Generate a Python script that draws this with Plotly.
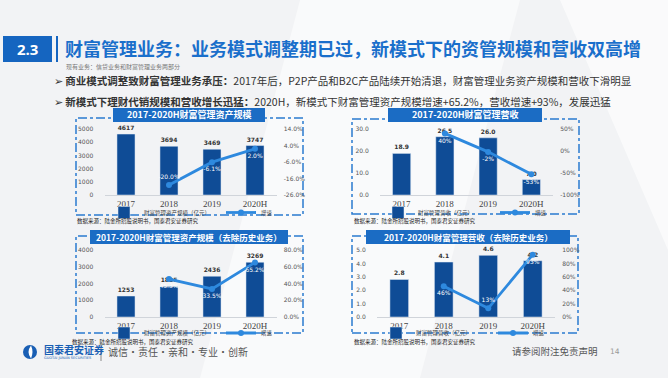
import plotly.graph_objects as go

W, H = 668, 378
def px(x): return x / W
def py(y): return 1 - y / H

# ---------------- data ----------------
categories = ["2017", "2018", "2019", "2020H"]

aum_all = [4617, 3694, 3469, 3747]              # 财富管理资产规模（亿元）
aum_all_growth = [None, -20.0, -6.1, 2.0]       # 增速 %
rev_all = [18.9, 26.5, 26.0, 7.0]               # 财富管理营收（亿元）
rev_all_growth = [None, 40, -2, -53]            # 增速 %
aum_new = [1253, 1825, 2436, 3269]              # 去除历史业务 资产规模
aum_new_growth = [None, 45.3, 33.5, 65.2]
rev_new = [2.8, 4.1, 4.6, 4.2]                  # 去除历史业务 营收
rev_new_growth = [None, 46, 13, 93]

left_ticks_1 = [0, 1000, 2000, 3000, 4000, 5000]
right_ticks_1 = [-26.0, -16.0, -6.0, 4.0, 14.0]
left_ticks_2 = [0.0, 10.0, 20.0, 30.0]
right_ticks_2 = [-100, -50, 0, 50]
left_ticks_3 = [0, 1000, 2000, 3000, 4000]
right_ticks_3 = [0.0, 20.0, 40.0, 60.0, 80.0]
left_ticks_4 = [0.0, 1.0, 2.0, 3.0, 4.0, 5.0]
right_ticks_4 = [0, 20, 40, 60, 80, 100]

BAR = "#0f4c96"
LINE = "#2e89de"
TXT = "#333333"
CJK = "Noto Sans CJK SC"

panels = [
    dict(title="2017-2020H财富管理资产规模", tsize=9, bars=aum_all, growth=aum_all_growth,
         bar_fmt="{:.0f}", g_fmt="{:.1f}%", left=left_ticks_1, right=right_ticks_1,
         lrange=[0, 5000], rrange=[-26, 14], lfmt="{:.0f}", rfmt="{:.1f}%",
         xd=[104.5, 276.5], yd=[129, 195], tbox=[113, 265, 108, 122],
         dbox=[76, 303, 118, 215], src=[75, 221], leg=[104, 212.5],
         tpos=["bottom center", "top center", "bottom center", "bottom center"],
         barname="财富管理资产规模（亿元）"),
    dict(title="2017-2020H财富管理营收", tsize=9, bars=rev_all, growth=rev_all_growth,
         bar_fmt="{:.1f}", g_fmt="{:.0f}%", left=left_ticks_2, right=right_ticks_2,
         lrange=[0, 30], rrange=[-100, 50], lfmt="{:.1f}", rfmt="{:.0f}%",
         xd=[380, 553], yd=[129, 195], tbox=[388, 542, 108, 122],
         dbox=[352, 579, 119, 214], src=[352, 221], leg=[378, 212.5],
         tpos=["bottom center", "bottom center", "bottom center", "bottom center"],
         barname="财富管理营收（亿元）"),
    dict(title="2017-2020H财富管理资产规模（去除历史业务）", tsize=8.5, bars=aum_new, growth=aum_new_growth,
         bar_fmt="{:.0f}", g_fmt="{:.1f}%", left=left_ticks_3, right=right_ticks_3,
         lrange=[0, 4000], rrange=[0, 80], lfmt="{:.0f}", rfmt="{:.1f}%",
         xd=[104.5, 276.5], yd=[250, 317], tbox=[90, 288, 230, 244],
         dbox=[76, 303, 236, 333], src=[70, 341.5], leg=[104, 333],
         tpos=["bottom center", "bottom center", "bottom center", "bottom center"],
         barname="财富管理资产规模（亿元）"),
    dict(title="2017-2020H财富管理营收（去除历史业务）", tsize=8.5, bars=rev_new, growth=rev_new_growth,
         bar_fmt="{:.1f}", g_fmt="{:.0f}%", left=left_ticks_4, right=right_ticks_4,
         lrange=[0, 5], rrange=[0, 100], lfmt="{:.1f}", rfmt="{:.0f}%",
         xd=[377, 555], yd=[250, 317], tbox=[366, 570, 230, 244],
         dbox=[352, 578, 236, 333], src=[352, 341.5], leg=[376, 333],
         tpos=["bottom center", "bottom center", "top center", "bottom center"],
         barname="财富管理营收（亿元）"),
]

fig = go.Figure()
layout = {}
shapes = []
annotations = []

def ann(x, y, text, size, color, family=CJK, xanchor="left"):
    annotations.append(dict(x=px(x), y=py(y), xref="paper", yref="paper", text=text,
                            showarrow=False, xanchor=xanchor, yanchor="middle",
                            font=dict(size=size, color=color, family=family)))

for i, p in enumerate(panels):
    n = i + 1
    xa = "x" if n == 1 else f"x{n}"
    yl_idx = 2 * i + 1
    yr_idx = 2 * i + 2
    yl = "y" if yl_idx == 1 else f"y{yl_idx}"
    yr = f"y{yr_idx}"
    leg = "legend" if n == 1 else f"legend{n}"

    fig.add_trace(go.Bar(
        x=categories, y=p["bars"], xaxis=xa, yaxis=yl, marker_color=BAR,
        width=0.42, name=p["barname"], legend=leg,
        text=[p["bar_fmt"].format(v) for v in p["bars"]], textposition="outside",
        textfont=dict(size=6, color=TXT, family="DejaVu Sans", weight="bold"),
        cliponaxis=False, hoverinfo="x+y"))
    fig.add_trace(go.Scatter(
        x=categories, y=p["growth"], xaxis=xa, yaxis=yr, mode="lines+markers+text",
        line=dict(color=LINE, width=2.8), marker=dict(color=LINE, size=6),
        text=["" if v is None else p["g_fmt"].format(v) for v in p["growth"]],
        textposition=p["tpos"], textfont=dict(size=6, color="white", family="DejaVu Sans"),
        name="增速", legend=leg, cliponaxis=False, connectgaps=False))

    xkey = "xaxis" if n == 1 else f"xaxis{n}"
    ylkey = "yaxis" if yl_idx == 1 else f"yaxis{yl_idx}"
    yrkey = f"yaxis{yr_idx}"
    layout[xkey] = dict(domain=[px(p["xd"][0]), px(p["xd"][1])], anchor=yl,
                        type="category", showline=True, linecolor="#d0d4da", linewidth=1,
                        ticks="", tickfont=dict(family="Liberation Serif", size=9, color="#444"),
                        showgrid=False, fixedrange=True, automargin=False)
    layout[ylkey] = dict(domain=[py(p["yd"][1]), py(p["yd"][0])], anchor=xa,
                         range=p["lrange"], tickmode="array", tickvals=p["left"],
                         ticktext=[p["lfmt"].format(v) for v in p["left"]],
                         showgrid=False, zeroline=False,
                         ticks="outside", ticklen=9, tickcolor="rgba(0,0,0,0)",
                         automargin=False,
                         tickfont=dict(size=6, color="#555", family="DejaVu Sans"))
    layout[yrkey] = dict(overlaying=yl, side="right", anchor=xa,
                         range=p["rrange"], tickmode="array", tickvals=p["right"],
                         ticktext=[p["rfmt"].format(v) for v in p["right"]],
                         showgrid=False, zeroline=False, ticks="outside", ticklen=5,
                         tickcolor="rgba(0,0,0,0)", automargin=False,
                         tickfont=dict(size=6, color="#555", family="DejaVu Sans"))
    layout[leg] = dict(x=px(p["leg"][0]), y=py(p["leg"][1]), xanchor="left",
                       yanchor="middle", orientation="h", bgcolor="rgba(0,0,0,0)",
                       font=dict(size=5.5, color="#444", family=CJK),
                       entrywidth=72, itemwidth=30, tracegroupgap=0)

    # dashed frame
    x0, x1, y0, y1 = p["dbox"]
    shapes.append(dict(type="rect", xref="paper", yref="paper", x0=px(x0), x1=px(x1),
                       y0=py(y1), y1=py(y0), line=dict(color="#2a7bd0", width=1.5, dash="dashdot"),
                       fillcolor="rgba(0,0,0,0)", layer="below"))
    # title box
    x0, x1, y0, y1 = p["tbox"]
    shapes.append(dict(type="rect", xref="paper", yref="paper", x0=px(x0), x1=px(x1),
                       y0=py(y1), y1=py(y0), line=dict(width=0), fillcolor="#1b6cc4"))
    ann((x0 + x1) / 2, (y0 + y1) / 2, "<b>" + p["title"] + "</b>", p["tsize"], "white",
        xanchor="center")
    ann(p["src"][0], p["src"][1], "数据来源：陆金所招股说明书，国泰君安证券研究", 5.5, "#222")

# background decorations
shapes.insert(0, dict(type="path", xref="paper", yref="paper",
                      path=f"M {px(300)} {py(0)} L {px(520)} {py(0)} L {px(420)} {py(378)} L {px(200)} {py(378)} Z",
                      fillcolor="rgba(255,255,255,0.55)", line=dict(width=0), layer="below"))
shapes.insert(0, dict(type="path", xref="paper", yref="paper",
                      path=f"M {px(560)} {py(0)} L {px(668)} {py(0)} L {px(668)} {py(250)} Z",
                      fillcolor="rgba(255,255,255,0.6)", line=dict(width=0), layer="below"))

# header
shapes.append(dict(type="rect", xref="paper", yref="paper", x0=px(3), x1=px(52),
                   y0=py(62), y1=py(36), fillcolor="#1565c0", line=dict(width=0)))
shapes.append(dict(type="line", xref="paper", yref="paper", x0=px(57), x1=px(57),
                   y0=py(62), y1=py(36), line=dict(color="#1565c0", width=2)))
ann(27.5, 49, "<b>2.3</b>", 15, "white", family="Open Sans", xanchor="center")
ann(63, 48, "<b>财富管理业务：业务模式调整期已过，新模式下的资管规模和营收双高增</b>", 18, "#1a6fcb")
ann(64, 66, "现有业务：信贷业务和财富管理业务两部分", 6, "#777")
ann(52, 80, "➢ <b>商业模式调整致财富管理业务承压：</b>2017年后，P2P产品和B2C产品陆续开始清退，财富管理业务资产规模和营收下滑明显",
    10.5, TXT)
ann(52, 101, "➢ <b>新模式下理财代销规模和营收增长迅猛：</b>2020H，新模式下财富管理资产规模增速+65.2%，营收增速+93%，发展迅猛",
    10.5, TXT)

# footer
shapes.append(dict(type="circle", xref="paper", yref="paper", x0=px(23), x1=px(37),
                   y0=py(359), y1=py(345), fillcolor="#1a5fb4", line=dict(width=0)))
shapes.append(dict(type="path", xref="paper", yref="paper",
                   path=f"M {px(31)} {py(345.5)} Q {px(26)} {py(352)} {px(31)} {py(358.5)} Q {px(34)} {py(352)} {px(31)} {py(345.5)} Z",
                   fillcolor="white", line=dict(width=0)))
shapes.append(dict(type="line", xref="paper", yref="paper", x0=px(101), x1=px(101),
                   y0=py(361), y1=py(342), line=dict(color="#888", width=1)))
ann(42, 349, "<b>国泰君安证券</b>", 10, "#1a5fb4")
ann(42, 358, "GUOTAI JUNAN SECURITIES", 3.5, "#1a5fb4", family="DejaVu Sans")
ann(106, 351, "诚信·责任·亲和·专业·创新", 10, "#555")
ann(510, 351, "请参阅附注免责声明", 9.5, "#555")
ann(608, 351, "14", 7.5, "#999", family="DejaVu Sans")

fig.update_layout(
    width=W, height=H, margin=dict(l=0, r=0, t=0, b=0, autoexpand=False),
    paper_bgcolor="#f2f3f5", plot_bgcolor="rgba(0,0,0,0)",
    bargap=0.5, showlegend=True, shapes=shapes, annotations=annotations,
    font=dict(family=CJK), **layout)

fig.write_html("out.html", config={"displayModeBar": False},
               post_script="document.body.style.margin='0px';document.body.style.overflow='hidden';")
